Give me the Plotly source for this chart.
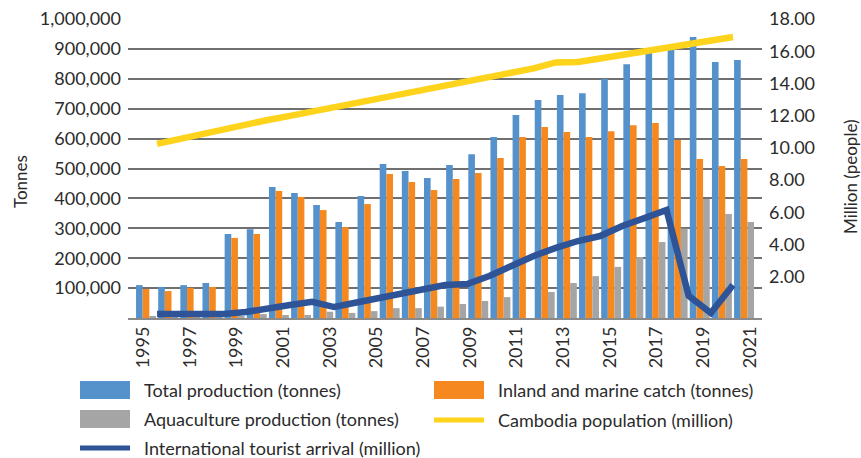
import plotly.graph_objects as go

# ---- data -------------------------------------------------------------
bar_years = list(range(1995, 2023))
total_production = [110000, 104000, 110000, 117000, 281000, 297000, 438000, 418000,
                    378000, 321000, 408000, 515000, 492000, 468000, 512000, 548000,
                    605000, 679000, 729000, 746000, 752000, 799000, 849000, 890000,
                    900000, 940000, 856000, 863000]
inland_marine_catch = [97000, 90000, 101000, 104000, 268000, 281000, 425000, 405000,
                       361000, 304000, 381000, 482000, 455000, 428000, 465000, 485000,
                       535000, 605000, 639000, 622000, 605000, 625000, 645000, 652000,
                       595000, 532000, 508000, 532000]
aquaculture_production = [4000, 3000, 3000, 5000, 5000, 13000, 10000, 10000,
                          21000, 17000, 23000, 33000, 33000, 38000, 47000, 57000,
                          70000, 0, 87000, 117000, 140000, 171000, 204000, 254000,
                          299000, 398000, 348000, 321000]

line_years = list(range(1995, 2022))
population_million = [10.24, 10.55, 10.86, 11.17, 11.48, 11.73, 11.98, 12.25, 12.52,
                      12.78, 13.04, 13.31, 13.59, 13.87, 14.12, 14.37, 14.61, 14.93,
                      15.30, 15.33, 15.55, 15.76, 15.98, 16.20, 16.39, 16.63, 16.88]
tourist_million = [-0.32, -0.32, -0.32, -0.32, -0.20, 0.05, 0.24, 0.44, 0.11,
                   0.39, 0.66, 0.93, 1.20, 1.48, 1.54, 2.04, 2.66, 3.28,
                   3.78, 4.21, 4.52, 5.14, 5.63, 6.14, 0.80, -0.26, 1.48]

label_years = list(range(1995, 2022, 2))
left_ticks = list(range(100000, 1000001, 100000))
right_ticks = list(range(2, 19, 2))

series_names = ["Total production (tonnes)", "Inland and marine catch (tonnes)",
                "Aquaculture production (tonnes)", "Cambodia population (million)",
                "International tourist arrival (million)"]
left_title = "Tonnes"
right_title = "Million (people)"

# ---- style ------------------------------------------------------------
BLUE, ORANGE, GREY = "#5592CB", "#F5891F", "#A5A5A5"
YELLOW, NAVY = "#FDD31B", "#2E5497"
TEXT = "#2b2b2b"
GRID = "#707070"
FONT = "Lato"

W_PX, H_PX = 861, 458
L, R, T, B = 128, 762, 19, 318


def xp(px):
    return (px - L) / (R - L)


def yp(py):
    return (B - py) / (B - T)


fig = go.Figure()

for vals, col, name in [(total_production, BLUE, series_names[0]),
                        (inland_marine_catch, ORANGE, series_names[1]),
                        (aquaculture_production, GREY, series_names[2])]:
    fig.add_trace(go.Bar(x=bar_years, y=vals, name=name, marker_color=col,
                         marker_line_width=0, xaxis="x", yaxis="y", showlegend=False))

fig.add_trace(go.Scatter(x=line_years, y=population_million, name=series_names[3],
                         mode="lines", line=dict(color=YELLOW, width=6.5),
                         xaxis="x2", yaxis="y2", showlegend=False))
fig.add_trace(go.Scatter(x=line_years, y=tourist_million, name=series_names[4],
                         mode="lines", line=dict(color=NAVY, width=6.5),
                         xaxis="x2", yaxis="y2", showlegend=False))

# empty carrier so the year-label axis gets drawn
fig.add_trace(go.Scatter(x=label_years, y=[None] * len(label_years), mode="markers",
                         xaxis="x3", yaxis="y", showlegend=False, hoverinfo="skip"))

# ---- legend drawn below the plot --------------------------------------
legend_items = [
    ("box", BLUE, series_names[0], 80, 390),
    ("box", ORANGE, series_names[1], 434, 390),
    ("box", GREY, series_names[2], 80, 419),
    ("line", YELLOW, series_names[3], 434, 420),
    ("line", NAVY, series_names[4], 80, 448),
]
shapes, annotations = [], []
for kind, col, text, x0, yc in legend_items:
    if kind == "box":
        shapes.append(dict(type="rect", xref="paper", yref="paper",
                           x0=xp(x0), x1=xp(x0 + 50), y0=yp(yc + 9), y1=yp(yc - 9),
                           fillcolor=col, line_width=0))
    else:
        shapes.append(dict(type="line", xref="paper", yref="paper",
                           x0=xp(x0), x1=xp(x0 + 50), y0=yp(yc), y1=yp(yc),
                           line=dict(color=col, width=5)))
    annotations.append(dict(text=text, xref="paper", yref="paper",
                            x=xp(x0 + 62), y=yp(yc), xanchor="left", yanchor="middle",
                            showarrow=False, font=dict(family=FONT, size=18, color=TEXT)))

# axis titles
annotations.append(dict(text=left_title, textangle=-90, xref="paper", yref="paper",
                        x=xp(20), y=yp(182), xanchor="center", yanchor="middle",
                        showarrow=False, font=dict(family=FONT, size=17, color=TEXT)))
annotations.append(dict(text=right_title, textangle=-90, xref="paper", yref="paper",
                        x=xp(850), y=yp(177), xanchor="center", yanchor="middle",
                        showarrow=False, font=dict(family=FONT, size=17, color=TEXT)))

fig.update_layout(
    width=W_PX, height=H_PX,
    margin=dict(l=L, r=W_PX - R, t=T, b=H_PX - B, autoexpand=False),
    paper_bgcolor="white", plot_bgcolor="white",
    barmode="group", bargap=0.1, bargroupgap=0,
    font=dict(family=FONT, size=18, color=TEXT),
    shapes=shapes, annotations=annotations,
    xaxis=dict(range=[1994.187, 2022.81], showticklabels=False, showgrid=False,
               zeroline=False, showline=True, linecolor="#8a8a8a", linewidth=2,
               fixedrange=True),
    xaxis2=dict(range=[1993.687, 2022.31], overlaying="x", anchor="y",
                visible=False, fixedrange=True),
    xaxis3=dict(range=[1994.358, 2021.514], overlaying="x", anchor="y", side="bottom",
                tickmode="array", tickvals=label_years,
                ticktext=[str(v) for v in label_years],
                tickangle=-90, showgrid=False, zeroline=False, showline=False,
                ticks="", ticklabelstandoff=4, fixedrange=True),
    yaxis=dict(range=[0, 1000000], tickmode="array", tickvals=left_ticks,
               tickformat=",", showgrid=True, gridcolor=GRID, gridwidth=1.5,
               zeroline=False, ticks="", ticklabelstandoff=6, fixedrange=True),
    yaxis2=dict(range=[-0.571, 18], overlaying="y", side="right", anchor="x",
                tickmode="array", tickvals=right_ticks, tickformat=".2f",
                showgrid=False, zeroline=False, ticks="", ticklabelstandoff=6,
                fixedrange=True),
)

fig.write_html("out.html")
